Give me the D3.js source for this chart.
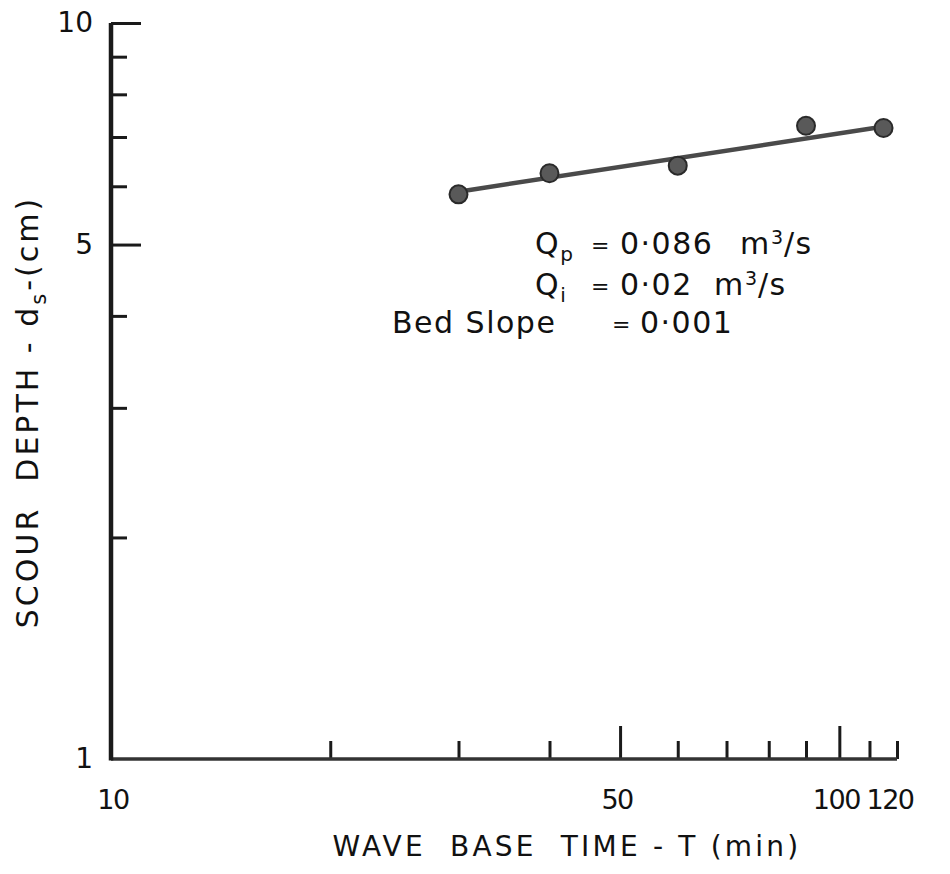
<!DOCTYPE html>
<html>
<head>
<meta charset="utf-8">
<script src="https://cdn.jsdelivr.net/npm/d3@7"></script>
<style>
  body { margin: 0; background: #fff; }
  text { font-family: "DejaVu Sans", sans-serif; fill: #111; }
</style>
</head>
<body>
<div id="chart"></div>
<script>
// measured points: wave base time T (min) vs scour depth ds (cm)
const baseTime = [30, 40, 60, 90, 115];
const scourDepth = [5.85, 6.25, 6.4, 7.25, 7.2];

// fitted line at both ends
const fitTime = [30, 117];
const fitDepth = [5.9, 7.25];

const xMinorTicks = [20, 30, 40, 60, 70, 80, 90, 110, 120];
const xMajorTicks = [50, 100];
const xTickLabels = [10, 50, 100, 120];
const yMinorTicks = [2, 3, 4, 6, 7, 8, 9];
const yMajorTicks = [5, 10];
const yTickLabels = [1, 5, 10];

const width = 950;
const height = 874;

const svg = d3.select("#chart")
  .append("svg")
  .attr("width", width)
  .attr("height", height);

const x = d3.scaleLog().domain([10, 120]).range([111, 897]);
const y = d3.scaleLog().domain([1, 10]).range([759, 23]);

const ink = "#1a1a1a";

// ticks point inward, long ones at the labelled values
function xAxis(ticks, size) {
  return d3.axisBottom(x).tickValues(ticks).tickSize(-size).tickFormat("");
}
function yAxis(ticks, size) {
  return d3.axisLeft(y).tickValues(ticks).tickSize(-size).tickFormat("");
}

const gx = svg.append("g").attr("transform", `translate(0,${y(1)})`);
gx.append("g").call(xAxis(xMinorTicks, 18));
gx.append("g").call(xAxis(xMajorTicks, 33));
gx.selectAll(".domain").remove();
gx.selectAll("line").attr("stroke", ink).attr("stroke-width", 3);

const gy = svg.append("g").attr("transform", `translate(${x(10)},0)`);
gy.append("g").call(yAxis(yMinorTicks, 16));
gy.append("g").call(yAxis(yMajorTicks, 30));
gy.selectAll(".domain").remove();
gy.selectAll("line").attr("stroke", ink).attr("stroke-width", 3);

// axis lines
svg.append("line")
  .attr("x1", x(10)).attr("x2", x(120))
  .attr("y1", y(1)).attr("y2", y(1))
  .attr("stroke", "#333").attr("stroke-width", 3.5);
svg.append("line")
  .attr("x1", x(10)).attr("x2", x(10))
  .attr("y1", y(1) + 1.5).attr("y2", y(10))
  .attr("stroke", ink).attr("stroke-width", 4.5);

// tick labels (the last two are squeezed apart a little, as drawn)
svg.append("g")
  .selectAll("text")
  .data(xTickLabels)
  .enter().append("text")
  .attr("x", d => d === 10 ? x(d) + 2 : d === 120 ? x(d) - 7 : x(d) - 3)
  .attr("y", 809)
  .attr("text-anchor", "middle")
  .attr("font-size", 27)
  .attr("letter-spacing", -1.5)
  .text(d => d);

svg.append("g")
  .selectAll("text")
  .data(yTickLabels)
  .enter().append("text")
  .attr("x", 93)
  .attr("y", d => y(d) + 9)
  .attr("text-anchor", "end")
  .attr("font-size", 28)
  .text(d => d);

// axis titles
svg.append("text")
  .attr("x", 567)
  .attr("y", 856)
  .attr("text-anchor", "middle")
  .attr("font-size", 28)
  .attr("letter-spacing", 3.2)
  .attr("xml:space", "preserve")
  .text("WAVE  BASE  TIME - T (min)");

const yTitle = svg.append("text")
  .attr("transform", "translate(38,412) rotate(-90)")
  .attr("text-anchor", "middle")
  .attr("font-size", 30)
  .attr("letter-spacing", 3)
  .attr("xml:space", "preserve");
yTitle.append("tspan").text("SCOUR  DEPTH - d");
yTitle.append("tspan").attr("font-size", 21).attr("dy", 8).text("s");
yTitle.append("tspan").attr("dy", -8).text("-(cm)");

// fitted line
const line = d3.line()
  .x(d => x(d[0]))
  .y(d => y(d[1]));

svg.append("path")
  .datum(d3.zip(fitTime, fitDepth))
  .attr("d", line)
  .attr("fill", "none")
  .attr("stroke", "#4a4a4a")
  .attr("stroke-width", 4.5)
  .attr("stroke-linecap", "round");

// data points
svg.append("g")
  .selectAll("circle")
  .data(d3.zip(baseTime, scourDepth))
  .enter().append("circle")
  .attr("cx", d => x(d[0]))
  .attr("cy", d => y(d[1]))
  .attr("r", 9)
  .attr("fill", "#595959")
  .attr("stroke", "#2a2a2a")
  .attr("stroke-width", 2);

// conditions of the run
const note = svg.append("g").attr("font-size", 30).attr("letter-spacing", 1.5);

function sub(t, base, s) {
  t.append("tspan").text(base);
  t.append("tspan").attr("font-size", 20).attr("dy", 7).text(s);
}

// "m3/s" with the 3 as a separate raised text
function unit(xp, yp) {
  note.append("text").attr("x", xp).attr("y", yp).text("m");
  note.append("text").attr("x", xp + 31).attr("y", yp - 10)
    .attr("font-size", 19).text("3");
  note.append("text").attr("x", xp + 44).attr("y", yp).text("/s");
}

sub(note.append("text").attr("x", 535).attr("y", 254), "Q", "p");
note.append("text").attr("x", 591).attr("y", 253).attr("font-size", 22).text("=");
note.append("text").attr("x", 620).attr("y", 254).text("0·086");
unit(740, 254);

sub(note.append("text").attr("x", 535).attr("y", 295), "Q", "i");
note.append("text").attr("x", 591).attr("y", 294).attr("font-size", 22).text("=");
note.append("text").attr("x", 620).attr("y", 295).text("0·02");
unit(714, 295);

note.append("text").attr("x", 392).attr("y", 333).text("Bed Slope");
note.append("text").attr("x", 612).attr("y", 332).attr("font-size", 22).text("=");
note.append("text").attr("x", 640).attr("y", 333).text("0·001");
</script>
</body>
</html>
